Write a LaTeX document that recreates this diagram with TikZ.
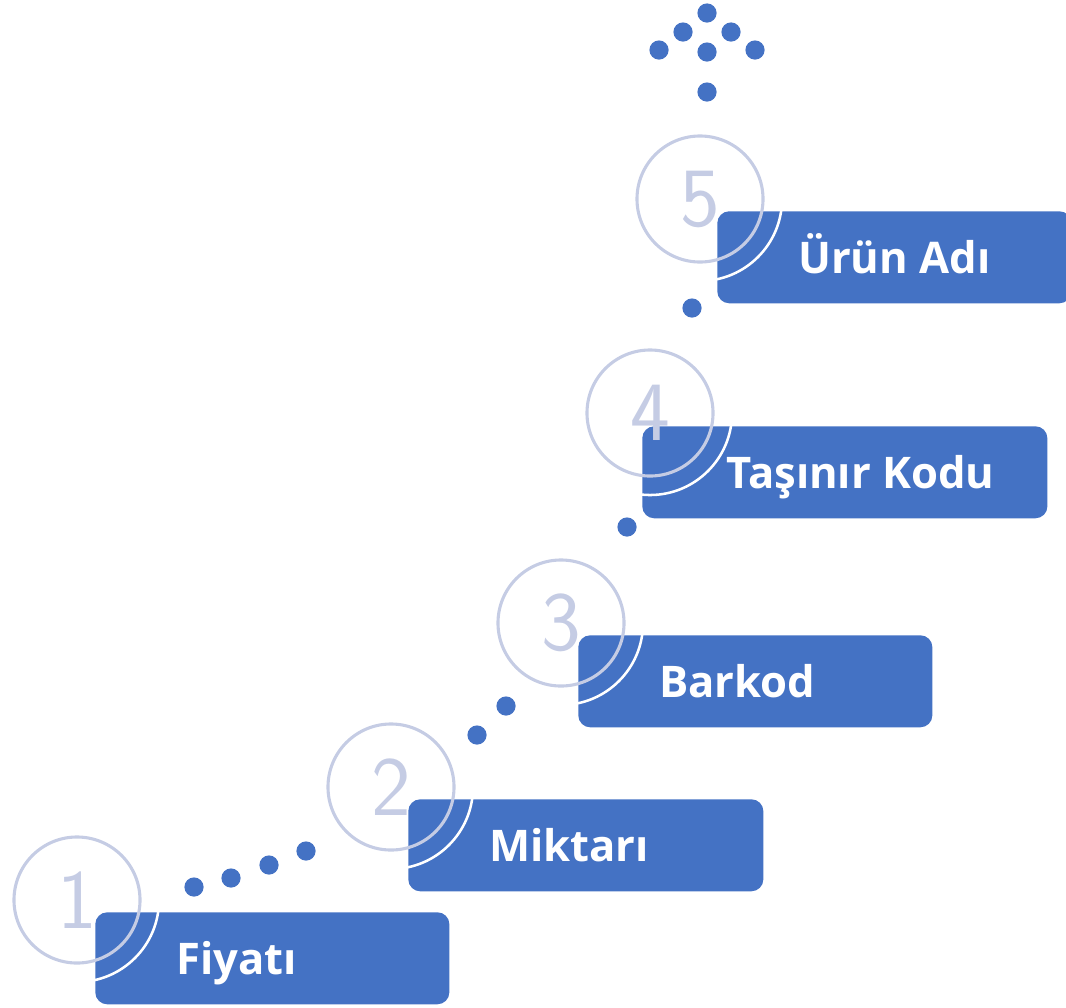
\documentclass[tikz,border=0pt]{standalone}
\usepackage{fontspec}
\newfontfamily\stepfont{Open Sans}
\definecolor{stepblue}{HTML}{4472C4}
\definecolor{ringgrey}{HTML}{C5CCE4}
\begin{document}
\begin{tikzpicture}[x=0.025cm, y=-0.025cm,
    stepbox/.style ={fill=stepblue, rounded corners=0.3cm, inner sep=0pt, anchor=north west, minimum height=2.3cm},
    steptext/.style ={text=white, inner sep=0pt, anchor=base west, font=\stepfont\bfseries\fontsize{31}{36}\selectfont},
    numring/.style ={circle, draw=ringgrey, line width=2.2pt, inner sep=0pt, minimum size=3.15cm, text=ringgrey, font=\sffamily\fontsize{60}{62}\selectfont},
    whitearc/.style ={draw=white, line width=1.8pt},
    dot/.style ={circle, fill=stepblue, inner sep=0pt, minimum size=0.48cm}]
   \useasboundingbox (0,0) rectangle (1066,1007);
   % steps
   \node[stepbox, minimum width=8.85cm]  (b1) at (95,912)  {};
   \node[stepbox, minimum width=8.875cm] (b2) at (408,799) {};
   \node[stepbox, minimum width=8.85cm]  (b3) at (578,635) {};
   \node[stepbox, minimum width=10.125cm] (b4) at (642,426) {};
   \node[stepbox, minimum width=8.85cm]  (b5) at (717,211) {};
   \node[steptext] (t1) at ([xshift=2.02cm, yshift=-0.4cm] b1.west) {Fiyatı};
   \node[steptext] (t2) at ([xshift=2.02cm, yshift=-0.4cm] b2.west) {Miktarı};
   \node[steptext] (t3) at ([xshift=2.02cm, yshift=-0.4cm] b3.west) {Barkod};
   \node[steptext] (t4) at ([xshift=2.1cm, yshift=-0.4cm] b4.west) {Taşınır Kodu};
   \node[steptext] (t5) at ([xshift=2.02cm, yshift=-0.4cm] b5.west) {Ürün Adı};
   % white arcs
   \foreach \b/\c in {b1/{77,900}, b2/{391,787}, b3/{561,623}, b4/{650,413}, b5/{700,199}} {
     \begin{scope}
       \clip[rounded corners=0.3cm] (\b.south west) rectangle (\b.north east);
       \draw[whitearc] (\c) circle (2.05cm);
     \end{scope}
   }
   % numbers
   \node[numring] (c1) at (77,900)  {1};
   \node[numring] (c2) at (391,787) {2};
   \node[numring] (c3) at (561,623) {3};
   \node[numring] (c4) at (650,413) {4};
   \node[numring] (c5) at (700,199) {5};
   % dots
   \foreach \p [count=\i] in {{194,887}, {231,878}, {269,865}, {306,851}, {477,735}, {506,706}, {627,527}, {692,308}}
     \node[dot] (d\i) at (\p) {};
   \foreach \p [count=\i] in {{707,13}, {683,32}, {731,32}, {659,50}, {707,52}, {755,50}, {707,92}}
     \node[dot] (a\i) at (\p) {};
 \end{tikzpicture}
\end{document}
